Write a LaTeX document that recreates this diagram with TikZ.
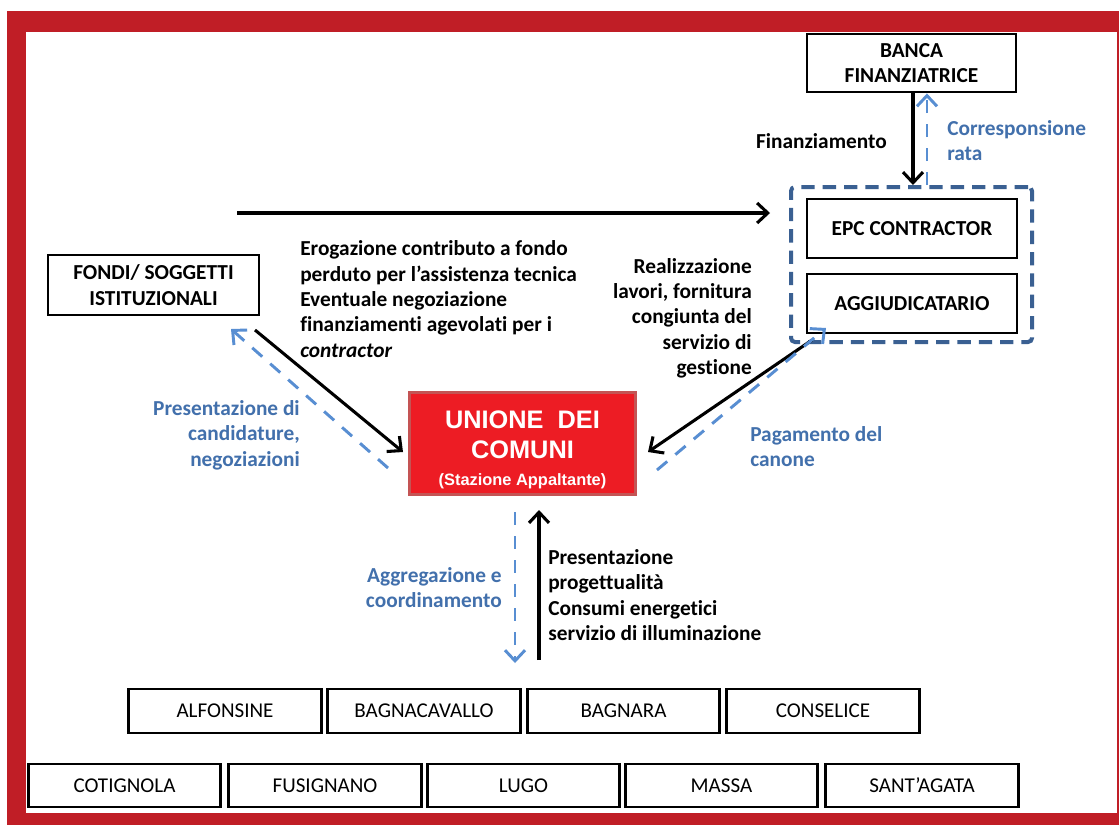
\documentclass[tikz,border=0pt]{standalone}
\usepackage{fontspec}
\setmainfont{Carlito}[Ligatures=NoCommon]
\newfontfamily\arialf{Liberation Sans}
\usetikzlibrary{arrows.meta}
\definecolor{framered}{RGB}{192,30,38}
\definecolor{unionred}{RGB}{237,28,36}
\definecolor{unionborder}{RGB}{196,84,84}
\definecolor{arrowblue}{RGB}{88,142,210}
\definecolor{textblue}{RGB}{66,112,172}
\definecolor{boxblue}{RGB}{58,96,146}
\begin{document}
\begin{tikzpicture}[x=0.75pt,y=-0.75pt,
  lbl/.style={font=\bfseries\fontsize{16}{19}\selectfont,inner sep=0pt},
  bluelbl/.style={lbl,text=textblue},
  box/.style={draw=black,line width=2.2pt,inner sep=0pt,align=center,
    font=\bfseries\fontsize{16}{19}\selectfont},
  comune/.style={draw=black,line width=2.2pt,inner sep=0pt,
    minimum width=144.5pt,font=\fontsize{15.8}{19}\selectfont},
  blk/.style={draw=black,line width=2.3pt,-{Straight Barb[length=8pt,width=15pt]}},
  bluearr/.style={draw=arrowblue,line width=2.2pt,dash pattern=on 10pt off 8pt,
    -{Straight Barb[length=8pt,width=15pt]}}
]
\useasboundingbox (0,0) rectangle (1119,825);
% frame
\fill[framered] (7,11) rectangle (1119,825);
\fill[white] (26,32) rectangle (1117,813);

% group box
\node[draw=boxblue,line width=3pt,dash pattern=on 10pt off 6pt,rounded corners=3pt,
  minimum width=180.75pt,minimum height=116.25pt,inner sep=0pt] (grp) at (911.5,264.5) {};

% main boxes
\node[box,minimum width=156.75pt,minimum height=43.5pt] (banca) at (911.5,63) {BANCA\\FINANZIATRICE};
\node[box,minimum width=157.5pt,minimum height=44.25pt] (epc) at (912,228.5) {EPC CONTRACTOR};
\node[box,minimum width=157.5pt,minimum height=44.25pt] (agg) at (912,303.5) {AGGIUDICATARIO};
\node[box,minimum width=158.25pt,minimum height=45pt] (fondi) at (153.5,285) {FONDI/ SOGGETTI\\ISTITUZIONALI};
\node[draw=unionborder,fill=unionred,line width=2.4pt,minimum width=169.5pt,minimum height=76.5pt,
  inner sep=0pt,align=center,text=white,font=\arialf\bfseries\fontsize{19}{22.5}\selectfont]
  (unione) at (522.5,443.5)
  {\rule{0pt}{22.5pt}UNIONE\ \ DEI\\COMUNI\\[-2.5pt]{\fontsize{12.3}{14}\selectfont (Stazione Appaltante)}};

% comuni
\node[comune,minimum height=33pt] (alf) at (225,711) {ALFONSINE};
\node[comune,minimum height=33pt] (bagc) at (424,711) {BAGNACAVALLO};
\node[comune,minimum height=33pt] (bagn) at (623.5,711) {BAGNARA};
\node[comune,minimum height=33pt] (cons) at (823,711) {CONSELICE};
\node[comune,minimum height=32.25pt] (cot) at (124.5,785.5) {COTIGNOLA};
\node[comune,minimum height=32.25pt] (fus) at (325,785.5) {FUSIGNANO};
\node[comune,minimum height=32.25pt] (lugo) at (523.5,785.5) {LUGO};
\node[comune,minimum height=32.25pt] (massa) at (721.5,785.5) {MASSA};
\node[comune,minimum height=32.25pt] (sant) at (922,785.5) {SANT’AGATA};

% labels
\node[lbl,anchor=east] (lfin) at (887,141) {Finanziamento};
\node[bluelbl,anchor=west,align=left] (lcorr) at (947,140.5) {Corresponsione\\rata};
\node[lbl,anchor=west,align=left] (lero) at (300,299) {Erogazione contributo a fondo\\perduto per l’assistenza tecnica\\Eventuale negoziazione\\finanziamenti agevolati per i\\\itshape contractor};
\node[lbl,anchor=east,align=right] (lreal) at (752,318) {Realizzazione\\lavori, fornitura\\congiunta del\\servizio di\\gestione};
\node[bluelbl,anchor=east,align=right] (lpres) at (300,435) {Presentazione di\\candidature,\\negoziazioni};
\node[bluelbl,anchor=west,align=left] (lpag) at (750,446.5) {Pagamento del\\canone};
\node[bluelbl,anchor=east,align=right] (lagg) at (502,587.5) {Aggregazione e\\coordinamento};
\node[lbl,anchor=west,align=left] (lprog) at (548,595) {Presentazione\\progettualità\\Consumi energetici\\servizio di illuminazione};

% coordinates for free ends
\coordinate (h1) at (237,213);
\coordinate (h2) at (770,213);
\coordinate (f1) at (255,330);
\coordinate (f2) at (403,452);
\coordinate (f3) at (388,468);
\coordinate (f4) at (231,329);
\coordinate (r1) at (812,340);
\coordinate (r2) at (648,452);
\coordinate (r3) at (657,470);
\coordinate (r4) at (826,328);
\coordinate (v1) at (515,512);
\coordinate (v2) at (515,663);
\coordinate (v3) at (539,660);
\coordinate (v4) at (539,510);

% connectors
\draw[blk] (h1) -- (h2);
\draw[blk] ([xshift=1.1pt]banca.south) -- ([xshift=1.1pt]grp.north);
\draw[bluearr] ([xshift=11.6pt]grp.north) -- ([xshift=11.6pt]banca.south);
\draw[blk] (f1) -- (f2);
\draw[bluearr] (f3) -- (f4);
\draw[blk] (r1) -- (r2);
\draw[bluearr] (r3) -- (r4);
\draw[bluearr] (v1) -- (v2);
\draw[blk] (v3) -- (v4);
\end{tikzpicture}
\end{document}
